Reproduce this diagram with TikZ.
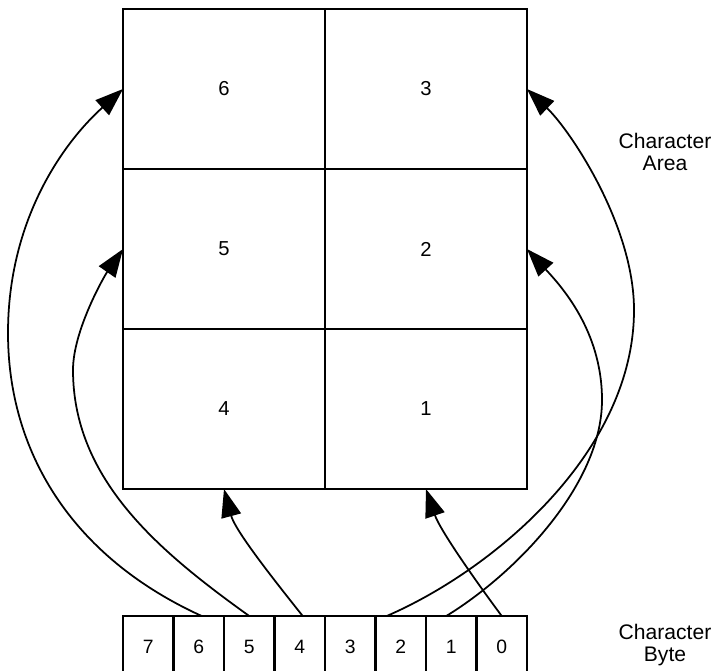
\documentclass[tikz,border=0pt]{standalone}
\usepackage{fontspec}
\setmainfont{Liberation Sans}
\usetikzlibrary{arrows.meta}
\begin{document}
\begin{tikzpicture}[x=0.02cm,y=-0.02cm,
  cell/.style={draw,line width=1.2pt,minimum width=4.04cm,minimum height=3.2cm,inner sep=0pt,outer sep=0pt,font=\fontsize{11.5}{13}\selectfont},
  bitbox/.style={draw,line width=1.2pt,minimum width=1.01cm,minimum height=1.24cm,inner sep=0pt,outer sep=0pt,font=\fontsize{11}{12}\selectfont},
  lbl/.style={align=center,font=\fontsize{12}{12.5}\selectfont,inner sep=0pt},
  arr/.style={line width=1pt,-{Triangle[length=0.56cm,width=0.4cm]}}]
\clip (0,0) rectangle (719,670);
\useasboundingbox (0,0) rectangle (719,670);
% character area
\node[cell] (c6) at (224,89) {6};
\node[cell] (c3) at (426,89) {3};
\node[cell] (c5) at (224,249) {5};
\node[cell] (c2) at (426,249) {2};
\node[cell] (c4) at (224,409) {4};
\node[cell] (c1) at (426,409) {1};
% character byte
\node[bitbox] (b7) at (148.25,647) {7};
\node[bitbox] (b6) at (198.75,647) {6};
\node[bitbox] (b5) at (249.25,647) {5};
\node[bitbox] (b4) at (299.75,647) {4};
\node[bitbox] (b3) at (350.25,647) {3};
\node[bitbox] (b2) at (400.75,647) {2};
\node[bitbox] (b1) at (451.25,647) {1};
\node[bitbox] (b0) at (501.75,647) {0};
% labels
\node[lbl] (la) at (665,152) {Character\\Area};
\node[lbl] (lb) at (665,645) {Character\\Byte};
% connectors
\draw[arr] ([xshift=0.06cm]b6.north) .. controls (70,556) and (8,450) .. (8,333)
  .. controls (8,220) and (63,143) .. (c6.west);
\draw[arr] (b5.north) .. controls (160,552) and (73,480) .. (73,370)
  .. controls (73,330) and (105,275) .. (c5.west);
\draw[arr] ([xshift=0.06cm]b4.north) .. controls (270,575) and (235,530) .. (c4.south);
\draw[arr] (b0.north) .. controls (475,580) and (440,530) .. (c1.south);
\draw[arr] ([xshift=-0.28cm]b2.north) .. controls (497,568) and (634,450) .. (634,310)
  .. controls (634,225) and (570,130) .. (c3.east);
\draw[arr] ([xshift=-0.1cm]b1.north) .. controls (515,574) and (602,485) .. (602,400)
  .. controls (602,330) and (560,285) .. (c2.east);
\end{tikzpicture}
\end{document}
